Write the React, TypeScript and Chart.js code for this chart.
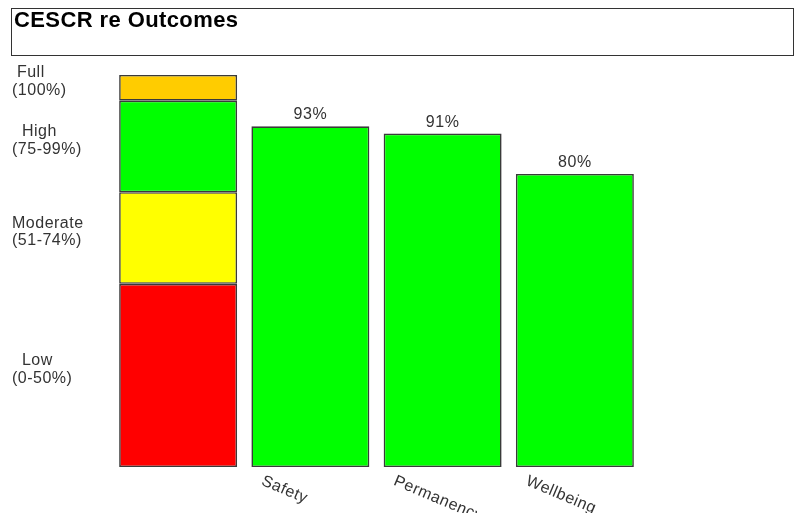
import React, { useEffect, useRef } from "react";
import { Chart, registerables } from "chart.js";

Chart.register(...registerables);

const TITLE = "CESCR re Outcomes";
const categories = ["", "Safety", "Permanency", "Wellbeing"];
const scores: (number | null)[] = [null, 93, 91, 80];
const bandNames = ["  Low", "Moderate", "  High", " Full"];
const bandRanges = ["(0-50%)", "(51-74%)", "(75-99%)", "(100%)"];
const bandSizes = [50, 25, 25, 7];
const bandColors = ["#FF0000", "#FFFF00", "#00FF00", "#FFCC00"];
const scoreColor = "#00FF00";
const Y_MAX = 107;

const FONT = '"Liberation Sans", Arial, sans-serif';

export default function App() {
  const ref = useRef<HTMLCanvasElement | null>(null);

  useEffect(() => {
    if (!ref.current) return;

    const bandMids: number[] = [];
    let acc = 0;
    bandSizes.forEach((s) => {
      bandMids.push(acc + s / 2);
      acc += s;
    });

    const bandDatasets = bandSizes.map((s, i) => ({
      label: bandNames[i].trim(),
      data: categories.map((_, ci) => (ci === 0 ? s : null)),
      backgroundColor: bandColors[i],
      borderColor: "#3a3a3a",
      borderWidth: 1.6,
      borderSkipped: false as const,
    }));
    const scoreIdx = bandDatasets.length;

    const decor = {
      id: "decor",
      beforeDraw(chart: any) {
        try {
          (chart.ctx as any).letterSpacing = "0.5px";
        } catch (e) {}
      },
      afterDraw(chart: any) {
        const ctx = chart.ctx as CanvasRenderingContext2D;
        ctx.save();
        // title box
        ctx.strokeStyle = "#333333";
        ctx.lineWidth = 1;
        ctx.strokeRect(11.5, 8.5, 782, 47);
        ctx.fillStyle = "#000000";
        ctx.font = `bold 22px ${FONT}`;
        ctx.textAlign = "left";
        ctx.textBaseline = "alphabetic";
        try {
          (ctx as any).letterSpacing = "0.4px";
        } catch (e) {}
        ctx.fillText(TITLE, 14, 27);

        const meta = chart.getDatasetMeta(scoreIdx);
        // value labels
        try {
          (ctx as any).letterSpacing = "0.5px";
        } catch (e) {}
        ctx.fillStyle = "#333333";
        ctx.font = `16px ${FONT}`;
        ctx.textAlign = "center";
        meta.data.forEach((bar: any, i: number) => {
          const v = scores[i];
          if (v == null) return;
          ctx.fillText(`${v}%`, bar.x, bar.y - 7);
        });

        // rotated category labels
        const bottom = chart.chartArea.bottom;
        const xs = chart.scales.x;
        const half = meta.data[1] ? meta.data[1].width / 2 : 59;
        ctx.textAlign = "left";
        ctx.textBaseline = "top";
        categories.forEach((c, i) => {
          if (!c) return;
          const left = xs.getPixelForValue(i) - half;
          ctx.save();
          ctx.translate(left + 14, bottom + 6);
          ctx.rotate((23 * Math.PI) / 180);
          ctx.fillText(c, 0, 0);
          ctx.restore();
        });
        ctx.restore();
        try {
          (ctx as any).letterSpacing = "0px";
        } catch (e) {}
      },
    };

    const chart = new Chart(ref.current, {
      type: "bar",
      data: {
        labels: categories,
        datasets: [
          ...bandDatasets,
          {
            label: "Score",
            data: scores,
            backgroundColor: scoreColor,
            borderColor: "#3a3a3a",
            borderWidth: 1.6,
            borderSkipped: false as const,
          },
        ],
      },
      options: {
        responsive: false,
        animation: false,
        devicePixelRatio: 1,
        layout: { padding: { top: 75, left: 12, right: 156, bottom: 46 } },
        datasets: {
          bar: { barPercentage: 0.892, categoryPercentage: 1 },
        },
        plugins: {
          legend: { display: false },
          title: { display: false },
          tooltip: { enabled: false },
        },
        scales: {
          x: {
            stacked: true,
            display: false,
          },
          y: {
            stacked: true,
            min: 0,
            max: Y_MAX,
            grid: { display: false },
            border: { display: false },
            afterBuildTicks: (scale: any) => {
              scale.ticks = bandMids.map((v) => ({ value: v }));
            },
            afterFit: (scale: any) => {
              scale.width = 100;
            },
            ticks: {
              autoSkip: false,
              crossAlign: "far",
              labelOffset: -6,
              color: "#333333",
              font: { family: FONT, size: 16, lineHeight: 1.1 },
              callback: (_v: any, i: number) => [bandNames[i], bandRanges[i]],
            },
          },
        },
      },
      plugins: [decor],
    });

    return () => chart.destroy();
  }, []);

  return (
    <div style={{ position: "fixed", left: 0, top: 0, width: 797, height: 513, background: "#fff" }}>
      <canvas ref={ref} width={797} height={513} />
    </div>
  );
}
